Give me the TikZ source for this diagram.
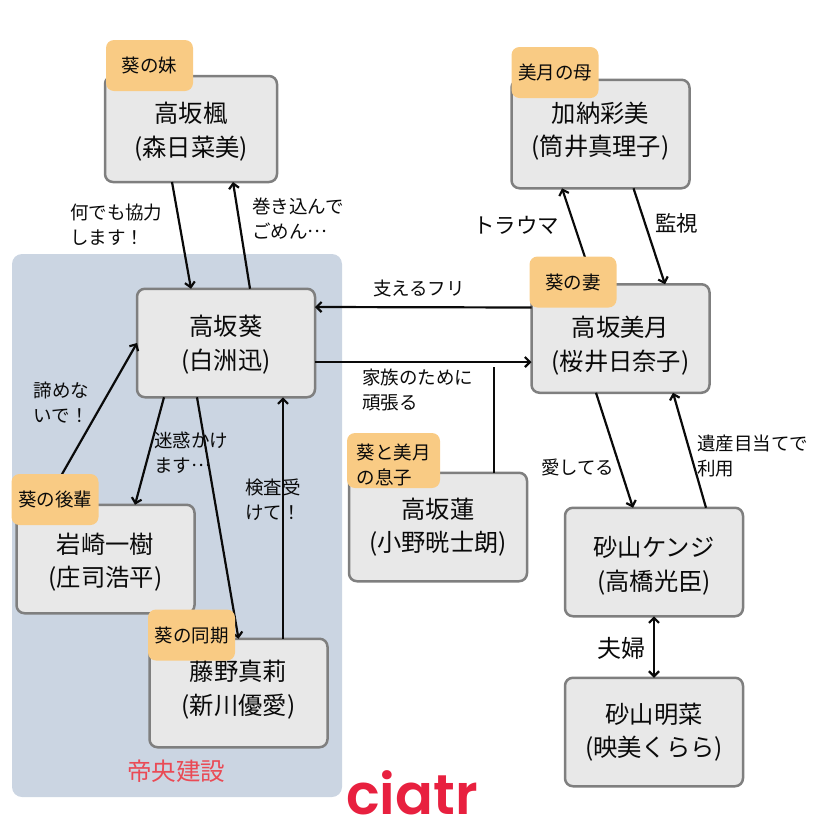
\documentclass[tikz,border=0pt]{standalone}
\usepackage{fontspec}
\setmainfont{Noto Sans CJK JP}
\newfontfamily\logofont{Poppins}[UprightFont=* SemiBold]
\usetikzlibrary{arrows.meta}

\definecolor{boxgray}{HTML}{E8E8E8}
\definecolor{edgegray}{HTML}{7F7F7F}
\definecolor{tagorange}{HTML}{F9CB84}
\definecolor{regionblue}{HTML}{CBD5E2}
\definecolor{regionred}{HTML}{EA4A55}
\definecolor{logored}{HTML}{E8203F}
\definecolor{inkblack}{HTML}{0A0A0A}

\newcommand{\topgap}[1]{\rule{0pt}{#1}}
\newcommand{\middots}{\raisebox{.33em}{…}}

\begin{document}
\begin{tikzpicture}[
  x=1pt, y=-1pt,
  every node/.style = {text=inkblack, inner sep=0pt, outer sep=0pt},
  personbox/.style = {draw=edgegray, fill=boxgray, line width=2.5pt, rounded corners=8pt,
    minimum width=178pt, minimum height=108.5pt, align=center, font=\fontsize{24.3}{33.5}\selectfont},
  textup/.style = {execute at end node={\rule[-#1]{0pt}{0pt}}},
  roletag/.style = {fill=tagorange, rounded corners=8pt, minimum width=87pt, minimum height=51pt,
    font=\fontsize{18.5}{25}\selectfont},
  lbl/.style = {anchor=west, align=left, font=\fontsize{18.5}{25}\selectfont},
  biglbl/.style = {anchor=west, font=\fontsize{21.5}{26}\selectfont},
  rel/.style = {draw=inkblack, line width=2.2pt, -{Straight Barb[length=5pt,width=10pt]}}
]
  \useasboundingbox (0,0) rectangle (828,828);

  % company area
  \node (region) [fill=regionblue, rounded corners=10pt, minimum width=330pt, minimum height=543pt] at (177,525.5) {};
  \node (company) [text=regionred, font=\fontsize{24.5}{30}\selectfont] at (176,771) {帝央建設};

  % people
  \node (kaede) [personbox, minimum width=172pt, minimum height=106pt] at (191,129) {\topgap{25.5pt}高坂楓\\(森日菜美)};
  \node (aoi) [personbox] at (226,343) {\topgap{23.5pt}高坂葵\\(白洲迅)};
  \node (iwasaki) [personbox] at (105.5,559) {\topgap{26.5pt}岩崎一樹\\(庄司浩平)};
  \node (fujino) [personbox, textup=11pt] at (238.5,693) {藤野真莉\\(新川優愛)};
  \node (ren) [personbox] at (438,527) {高坂蓮\\(小野晄士朗)};
  \node (kano) [personbox, textup=10pt] at (600.5,134) {加納彩美\\(筒井真理子)};
  \node (mizuki) [personbox] at (620.5,338.5) {\topgap{35pt}高坂美月\\(桜井日奈子)};
  \node (kenji) [personbox] at (654,562) {\topgap{27.5pt}砂山ケンジ\\(高橋光臣)};
  \node (akina) [personbox] at (654,732) {砂山明菜\\(映美くらら)};

  % relations
  \draw[rel] ([xshift=-19pt]kaede.south) -- ([xshift=-35pt]aoi.north);
  \draw[rel] ([xshift=24pt]aoi.north) -- ([xshift=42pt]kaede.south);
  \draw[rel] ([yshift=31pt]mizuki.west) -- ([yshift=36pt]aoi.east);
  \draw[rel] ([yshift=-19pt]aoi.east) -- ([yshift=-23.5pt]mizuki.west);
  \coordinate (renend) at (494,367);
  \draw[draw=inkblack, line width=2.2pt] ([xshift=56pt]ren.north) -- (renend);
  \draw[rel] ([xshift=-61pt]iwasaki.north) -- (aoi.west);
  \draw[rel] ([xshift=-62pt]aoi.south) -- ([xshift=29.5pt]iwasaki.north);
  \draw[rel] ([xshift=-29pt]aoi.south) -- ([xshift=0pt]fujino.north);
  \draw[rel] ([xshift=44.5pt]fujino.north) -- ([xshift=57pt]aoi.south);
  \draw[rel] ([xshift=-26.5pt]mizuki.north) -- ([xshift=-38.5pt]kano.south);
  \draw[rel] ([xshift=33pt]kano.south) -- ([xshift=44.5pt]mizuki.north);
  \draw[rel] ([xshift=-24.5pt]mizuki.south) -- ([xshift=-21pt]kenji.north);
  \draw[rel] ([xshift=52pt]kenji.north) -- ([xshift=52.5pt]mizuki.south);
  \draw[rel, {Straight Barb[length=5pt,width=10pt]}-{Straight Barb[length=5pt,width=10pt]}] (kenji) -- (akina);

  % role tags
  \node (tagkaede) [roletag] at (149.5,65.5) {葵の妹};
  \node (tagiwasaki) [roletag] at (55,499.5) {葵の後輩};
  \node (tagfujino) [roletag] at (191.5,635) {葵の同期};
  \node (tagren) [roletag, minimum width=93pt, minimum height=55pt, align=left] at (393.5,460.5) {\topgap{24.5pt}葵と美月\\の息子};
  \node (tagkano) [roletag] at (555,72.5) {美月の母};
  \node (tagmizuki) [roletag] at (573,282) {葵の妻};

  % labels
  \node (lblhelp) [lbl] at (70,224.5) {何でも協力\\します！};
  \node (lblsorry) [lbl] at (252,219) {巻き込んで\\ごめん\middots};
  \node (lblgiveup) [lbl] at (34,403) {諦めな\\いで！};
  \node (lbltrouble) [lbl] at (154,453) {迷惑かけ\\ます\middots};
  \node (lblcheck) [lbl] at (245,500) {検査受\\けて！};
  \node (lblpretend) [lbl] at (373,288) {支えるフリ};
  \node (lblfamily) [lbl] at (362,390) {家族のために\\頑張る};
  \node (lbltrauma) [biglbl] at (473,225) {トラウマ};
  \node (lblwatch) [biglbl] at (655,223) {監視};
  \node (lbllove) [lbl] at (541,467) {愛してる};
  \node (lblmoney) [lbl] at (697,456) {遺産目当てで\\利用};
  \node (lblcouple) [biglbl, font=\fontsize{24}{30}\selectfont] at (597,648) {夫婦};

  \node (logo) [text=logored, font=\fontsize{56}{60}\logofont] at (412,793) {ciatr};
\end{tikzpicture}
\end{document}
